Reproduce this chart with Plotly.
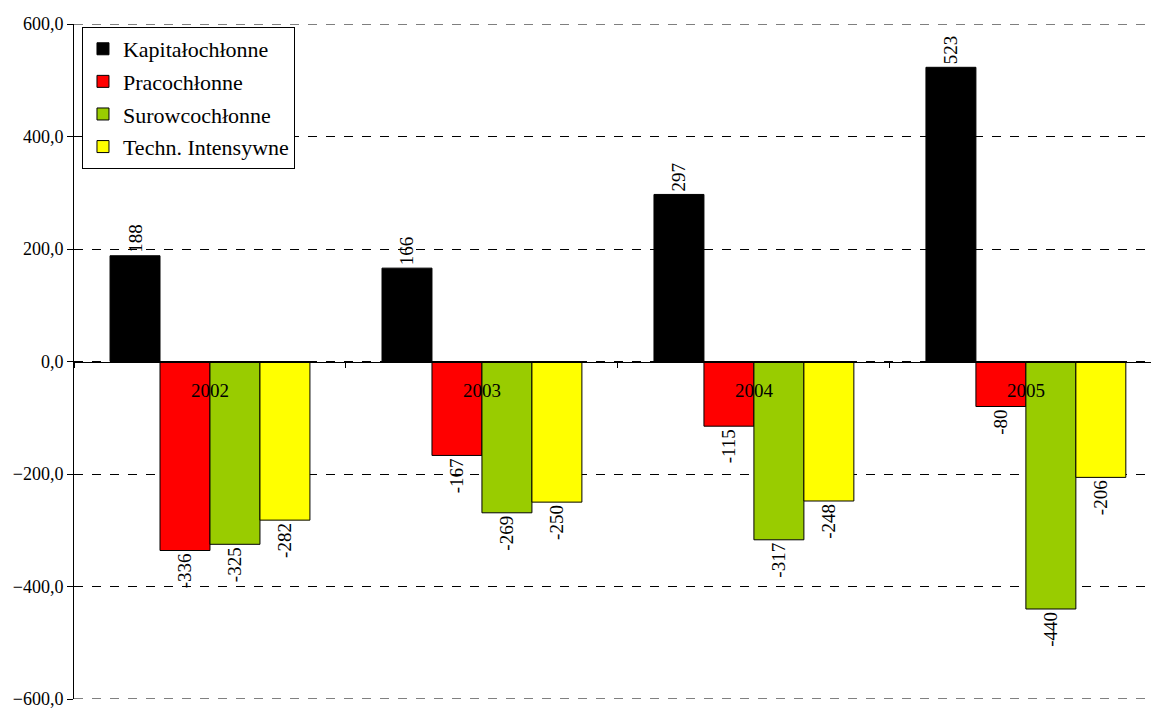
import plotly.graph_objects as go

years = ["2002", "2003", "2004", "2005"]
series_names = ["Kapitałochłonne", "Pracochłonne", "Surowcochłonne", "Techn. Intensywne"]
kapital = [188, 166, 297, 523]
praca = [-336, -167, -115, -80]
surowiec = [-325, -269, -317, -440]
techn = [-282, -250, -248, -206]
colors = ["#000000", "#FF0000", "#99CC00", "#FFFF00"]
y_ticks = [-600, -400, -200, 0, 200, 400, 600]

FONT = '"Liberation Serif", "Times New Roman", serif'

fig = go.Figure()
for i, (name, vals) in enumerate(zip(series_names, [kapital, praca, surowiec, techn])):
    fig.add_trace(go.Bar(
        x=years, y=vals, name=name,
        marker=dict(color=colors[i], line=dict(color="#000000", width=1)),
        text=[str(v) for v in vals],
        textposition="outside",
        textangle=-90,
        constraintext="none",
        cliponaxis=False,
        textfont=dict(family=FONT, size=19, color="#000000"),
        legendgroup=f"g{i}",
    ))

# edge grid lines (plotly omits grid lines at the plot edges)
for yv in (y_ticks[0], y_ticks[-1]):
    fig.add_shape(type="line", xref="paper", yref="y", x0=0, x1=1, y0=yv, y1=yv,
                  line=dict(color="#000000", width=1, dash="dash"), layer="below")

fig.update_layout(
    width=1151, height=708,
    margin=dict(l=74, r=0, t=24, b=9),
    paper_bgcolor="white", plot_bgcolor="white",
    barmode="group", bargap=0.265, bargroupgap=0,
    separators=", ",
    font=dict(family=FONT, size=18, color="#000000"),
    showlegend=True,
    legend=dict(
        x=0.0074, y=0.9956, xanchor="left", yanchor="top",
        bgcolor="white", bordercolor="#000000", borderwidth=1,
        font=dict(family=FONT, size=22, color="#000000"),
        tracegroupgap=1, traceorder="grouped",
        itemwidth=30,
    ),
    xaxis=dict(
        type="category",
        range=[-0.5, 3.46],
        anchor="free", position=0.5,
        showline=True, linecolor="#000000", linewidth=1,
        ticks="outside", tickson="boundaries", ticklen=5, tickcolor="#000000",
        ticklabelstandoff=12,
        showgrid=False, zeroline=False,
        tickfont=dict(family=FONT, size=19, color="#000000"),
        layer="above traces",
    ),
    yaxis=dict(
        range=[-600, 600],
        tickvals=y_ticks,
        tickformat=".1f",
        showline=True, linecolor="#000000", linewidth=1,
        ticks="outside", ticklen=6, tickcolor="#000000",
        showgrid=True, gridcolor="#000000", griddash="dash", gridwidth=1,
        zeroline=False,
        ticklabeloverflow="allow",
        tickfont=dict(family=FONT, size=18, color="#000000"),
    ),
)

fig.write_html("out.html", config={"displayModeBar": False},
               post_script="document.body.style.margin='0';document.body.style.overflow='hidden';")
